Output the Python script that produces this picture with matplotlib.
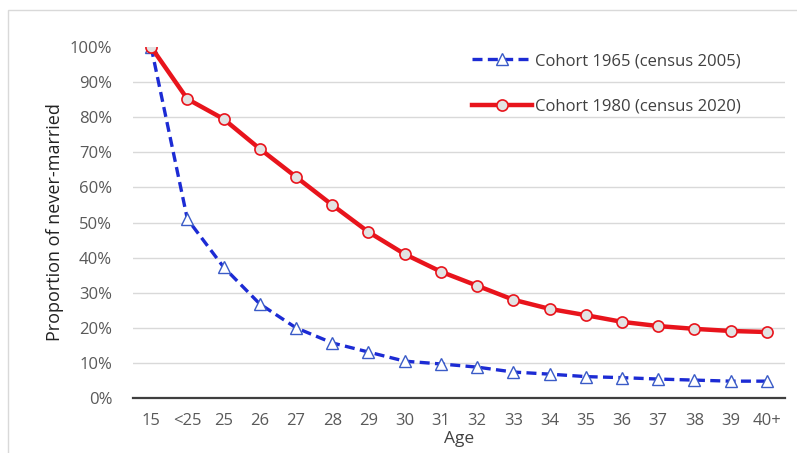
import matplotlib
matplotlib.use("Agg")
import matplotlib.pyplot as plt
from matplotlib.patches import Rectangle
from matplotlib.ticker import PercentFormatter

plt.rcParams['font.family'] = ['Open Sans', 'DejaVu Sans']

ages = ['15', '<25', '25', '26', '27', '28', '29', '30', '31', '32',
        '33', '34', '35', '36', '37', '38', '39', '40+']
cohort_1965 = [100, 51, 37.3, 26.8, 20.0, 15.7, 13.1, 10.5, 9.7, 8.8,
               7.4, 6.8, 6.1, 5.8, 5.4, 5.1, 4.8, 4.8]
cohort_1980 = [100, 85.2, 79.5, 71.0, 63.0, 55.0, 47.3, 41.0, 36.0, 32.0,
               28.0, 25.4, 23.6, 21.7, 20.5, 19.7, 19.1, 18.8]

fig = plt.figure(figsize=(7.97, 4.53), dpi=100)
ax = fig.add_axes([0.1669, 0.1214, 0.818, 0.7748])

# chart frame like the Excel chart area
fig.patches.append(Rectangle((8 / 797, -0.1), 1.0, (453 - 10) / 453 + 0.1,
                             transform=fig.transFigure, fill=False,
                             edgecolor='#d9d9d9', linewidth=1.0))

x = list(range(len(ages)))
ax.plot(x, cohort_1965, color='#1c2bd4', linestyle=(0, (3, 1.6)), linewidth=2.4,
        marker='^', markersize=8, markerfacecolor='white',
        markeredgecolor='#3a5bc7', markeredgewidth=1.0,
        label='Cohort 1965 (census 2005)', zorder=3)
ax.plot(x, cohort_1980, color='#e8141c', linewidth=3.2,
        marker='o', markersize=8, markerfacecolor='#e3e3e3',
        markeredgecolor='#e8141c', markeredgewidth=1.2,
        label='Cohort 1980 (census 2020)', zorder=4)

ax.set_xlim(-0.5, len(ages) - 0.5)
ax.set_ylim(0, 100)
ax.set_xticks(x)
ax.set_xticklabels(ages)
ax.set_yticks(range(0, 101, 10))
ax.yaxis.set_major_formatter(PercentFormatter(decimals=0))
ax.tick_params(length=0, labelsize=12, colors='#595959')
ax.tick_params(axis='y', pad=15)
ax.tick_params(axis='x', pad=11)

ax.grid(axis='y', color='#d9d9d9', linewidth=1.0)
ax.get_ygridlines()[-1].set_visible(False)
ax.get_ygridlines()[0].set_visible(False)
ax.set_axisbelow(True)
for side in ['top', 'right', 'left']:
    ax.spines[side].set_visible(False)
ax.spines['bottom'].set_color('#3f3f3f')
ax.spines['bottom'].set_linewidth(1.6)

ax.set_ylabel('Proportion of never-married', fontsize=13, color='#222222', labelpad=4)
ax.set_xlabel('Age', fontsize=12.5, color='#404040', labelpad=1)

ax.legend(loc='upper right', bbox_to_anchor=(0.955, 1.025), frameon=False,
          fontsize=12, labelspacing=1.75, handlelength=3.6, handletextpad=0.15,
          labelcolor='#404040')

fig.savefig('out.png', dpi=100)
